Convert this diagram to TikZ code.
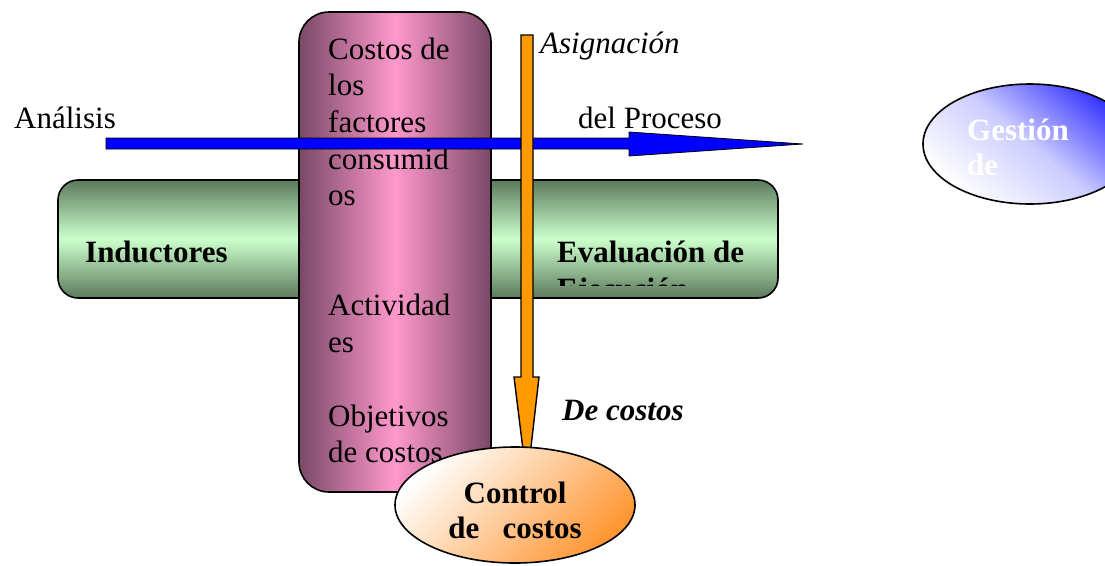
\documentclass[tikz,border=0pt]{standalone}
\usepackage{fontspec}
\setmainfont{Liberation Serif}
\usetikzlibrary{shapes.geometric}
\definecolor{gdark}{RGB}{92,122,92}
\definecolor{glight}{RGB}{204,255,204}
\definecolor{pdark}{RGB}{122,72,102}
\definecolor{plight}{RGB}{255,153,204}
\definecolor{arrorange}{RGB}{255,153,0}
\definecolor{ellorange}{RGB}{255,150,50}
\definecolor{ellblue}{RGB}{50,50,255}
\begin{document}
\begin{tikzpicture}[x=1pt,y=-1pt,
  txt/.style={inner sep=0pt,anchor=base west,font=\fontsize{31}{37}\selectfont},
  btxt/.style={txt,font=\fontsize{31}{37}\selectfont\bfseries},
  outline/.style={draw=black,line width=1.6pt}]
\clip (0,0) rectangle (1105,565);
\useasboundingbox (0,0) rectangle (1105,565);
% green bar
\path[outline,rounded corners=20pt,top color=gdark,bottom color=gdark,middle color=glight]
  (58,180) rectangle (778,298);
\node[btxt] (ind) at (85,262) {Inductores};
\begin{scope}
\clip (540,180) rectangle (778,285);
\node[btxt] (eval) at (557,262) {Evaluación de};
\node[btxt] (ejec) at (557,299) {Ejecución};
\end{scope}
% pink bar
\path[outline,rounded corners=30pt,left color=pdark,right color=pdark,middle color=plight]
  (299,12) rectangle (491,492);
\node[txt] (p1) at (328,59) {Costos de};
\node[txt] (p2) at (328,95.7) {los};
\node[txt] (p3) at (328,132.4) {factores};
\node[txt] (p4) at (328,169.1) {consumid};
\node[txt] (p5) at (328,205.8) {os};
\node[txt] (p6) at (328,315.9) {Actividad};
\node[txt] (p7) at (328,352.6) {es};
\node[txt] (p8) at (328,426) {Objetivos};
\node[txt] (p9) at (328,462.7) {de costos};
% blue arrow
\coordinate (bstart) at (106,143.5);
\coordinate (btip) at (803,144);
\path[draw=black,line width=0.8pt,fill=blue]
  (106,138) -- (629,138) -- (629,132) -- (btip) -- (629,156) -- (629,149) -- (106,149) -- cycle;
\node[txt] (anal) at (14,128) {Análisis};
\node[txt] (proc) at (578,128) {del Proceso};
% orange arrow
\coordinate (ostart) at (527,35);
\coordinate (otip) at (527,482);
\path[draw=black,line width=1.4pt,fill=arrorange]
  (521,35) -- (533,35) -- (533,377) -- (539,377) -- (otip) -- (514,377) -- (521,377) -- cycle;
\node[txt,font=\fontsize{31}{37}\selectfont\itshape] (asig) at (540,53) {Asignación};
\node[txt,font=\fontsize{31}{37}\selectfont\bfseries\itshape] (dec) at (562,420) {De costos};
% bottom ellipse
\node[ellipse,outline,minimum width=240pt,minimum height=116pt,inner sep=0pt,
  top color=white,bottom color=ellorange,shading angle=45] (ctrl) at (515,505) {};
\node[btxt,anchor=base] (c1) at (515,503) {Control};
\node[btxt,anchor=base] (c2) at (515,538) {de\ \ \ costos};
% right ellipse
\node[ellipse,outline,minimum width=214pt,minimum height=120pt,inner sep=0pt,
  top color=ellblue,bottom color=white,middle color=white!75!ellblue,shading angle=-40] (gest) at (1030,144) {};
\node[btxt,text=white] (g1) at (967,140) {Gestión};
\node[btxt,text=white] (g2) at (967,175) {de};
\end{tikzpicture}
\end{document}
